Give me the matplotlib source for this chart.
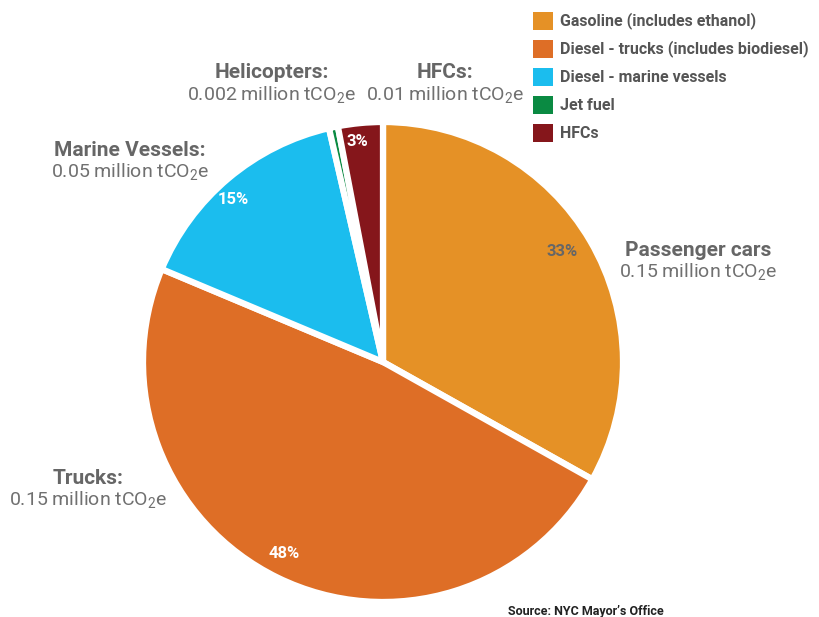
import matplotlib
matplotlib.use("Agg")
import matplotlib.pyplot as plt
from matplotlib.patches import Rectangle

# Transport emissions by source
categories = ["Gasoline (includes ethanol)", "Diesel - trucks (includes biodiesel)",
              "Diesel - marine vessels", "Jet fuel", "HFCs"]
shares = [33, 48, 15, 0.6, 3]
pct_labels = ["33%", "48%", "15%", "", "3%"]
colors = ["#E59126", "#DE6E26", "#1BBDEE", "#0A8A42", "#85161B"]
pct_colors = ["#666666", "white", "white", "white", "white"]

callout_titles = ["Passenger cars", "Trucks:", "Marine Vessels:", "Helicopters:", "HFCs:"]
callout_values = ["0.15", "0.15", "0.05", "0.002", "0.01"]

FONT = ["Roboto", "DejaVu Sans"]
plt.rcParams["font.family"] = FONT
plt.rcParams["mathtext.fontset"] = "custom"
plt.rcParams["mathtext.rm"] = "Roboto"

W, H = 819, 617
fig = plt.figure(figsize=(W / 100, H / 100), dpi=100)
ax = fig.add_axes([0, 0, 1, 1])


def Y(y):
    """Convert a top-down pixel row into the axes' bottom-up coordinate."""
    return H - y


cx, cy, r = 383, 362, 240
wedges, _ = ax.pie(shares, colors=colors, startangle=90, counterclock=False,
                   center=(cx, Y(cy)), radius=r, frame=True,
                   wedgeprops=dict(edgecolor="white", linewidth=4.5))
ax.set_xlim(0, W)
ax.set_ylim(0, H)
ax.set_aspect("equal")
ax.axis("off")

# percentage labels inside wedges
pct_pos = [(562, 252), (284, 554), (233, 200), None, (357, 141)]
for lab, pos, c in zip(pct_labels, pct_pos, pct_colors):
    if lab and pos:
        ax.text(pos[0], Y(pos[1]), lab, ha="center", va="center", fontsize=12,
                fontweight="bold", color=c)

# callouts
gray = "#666666"
callout_pos = [(698, 250), (88, 478), (130, 150), (272, 73), (445, 73)]
for title, val, (x, y) in zip(callout_titles, callout_values, callout_pos):
    ax.text(x, Y(y), title, ha="center", va="center", fontsize=15,
            fontweight="bold", color=gray)
    ax.text(x, Y(y + 22), val + r" million tCO$_\mathregular{2}$e", ha="center",
            va="center", fontsize=14, color="#707070")

# legend
for i, (cat, col) in enumerate(zip(categories, colors)):
    y = 21 + i * 28
    ax.add_patch(Rectangle((533, Y(y + 9)), 20, 18, facecolor=col, edgecolor="none"))
    ax.text(560, Y(y), cat, ha="left", va="center", fontsize=11.5,
            fontweight="bold", color="#555555")

ax.text(508, Y(611), "Source: NYC Mayor\u2019s Office", ha="left", va="center",
        fontsize=9, fontweight="bold", color="#222222")

fig.savefig("out.png", dpi=100, facecolor="white")
